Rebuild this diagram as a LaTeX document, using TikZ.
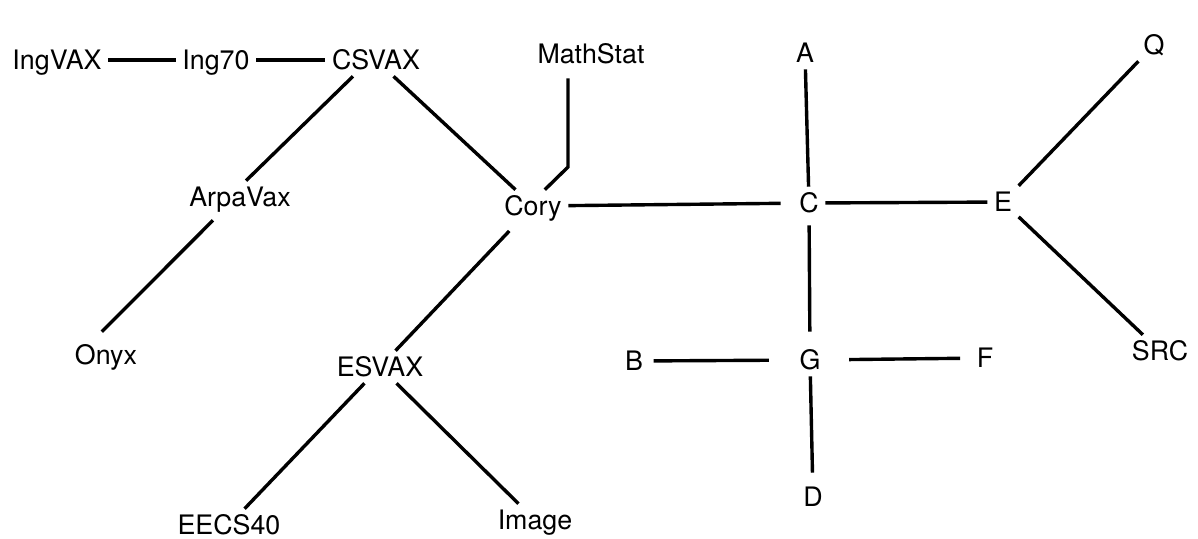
\documentclass[tikz,border=0pt]{standalone}
\usepackage{fontspec}
\setmainfont{TeX Gyre Heros}
\begin{document}
\begin{tikzpicture}[x=0.5pt, y=-0.5pt, line width=1.7pt,
  host/.style={font=\fontsize{13.4}{16}\selectfont, inner sep=2.5pt, text height=9.6pt, text depth=0pt}]
  \useasboundingbox (0,0) rectangle (1198,538);
  % left part of the net
  \node[host] (ingvax) at (57,60) {IngVAX};
  \node[host] (ing70) at (216,60) {Ing70};
  \node[host] (csvax) at (376,60) {CSVAX};
  \node[host] (mathstat) at (591,54) {MathStat};
  \node[host] (arpavax) at (240,197) {ArpaVax};
  \node[host] (cory) at (533,206) {Cory};
  \node[host] (onyx) at (106,355) {Onyx};
  \node[host] (esvax) at (380,367) {ESVAX};
  \node[host] (eecs40) at (229,525) {EECS40};
  \node[host] (image) at (535,520) {Image};
  % right part of the net
  \node[host] (a) at (805,53) {A};
  \node[host] (c) at (809,203) {C};
  \node[host] (e) at (1003,202) {E};
  \node[host] (q) at (1154,45) {Q};
  \node[host] (src) at (1160,351) {SRC};
  \node[host] (b) at (634,361) {B};
  \node[host] (g) at (810,360) {G};
  \node[host] (f) at (985,358) {F};
  \node[host] (d) at (813,497) {D};
  \coordinate (bend) at (568,167);

  \draw (ingvax) -- (ing70) -- (csvax);
  \draw ([xshift=-11.5pt]csvax.south) -- ([xshift=3pt]arpavax.north);
  \draw[shorten <=5pt, shorten >=5pt] ([xshift=-10pt]arpavax.south) -- ([xshift=-5.6pt]onyx.north);
  \draw (csvax) -- (cory);
  \draw[shorten <=6pt] (cory) -- (esvax);
  \draw (esvax) -- (eecs40);
  \draw (esvax) -- (image);
  \draw[shorten <=4pt] (mathstat.south -| bend) -- (bend) -- ([xshift=5.9pt]cory.north);
  \draw[shorten >=6pt] (cory) -- (c);
  \draw (c) -- (e);
  \draw (e) -- (q);
  \draw (e) -- (src);
  \draw (a) -- (c);
  \draw[shorten <=3pt, shorten >=6pt] (c) -- (g);
  \draw[shorten >=4pt] (g) -- (d);
  \draw[shorten <=2pt, shorten >=12pt] (b) -- (g);
  \draw[shorten <=11pt, shorten >=5pt] (g) -- (f);
\end{tikzpicture}
\end{document}
